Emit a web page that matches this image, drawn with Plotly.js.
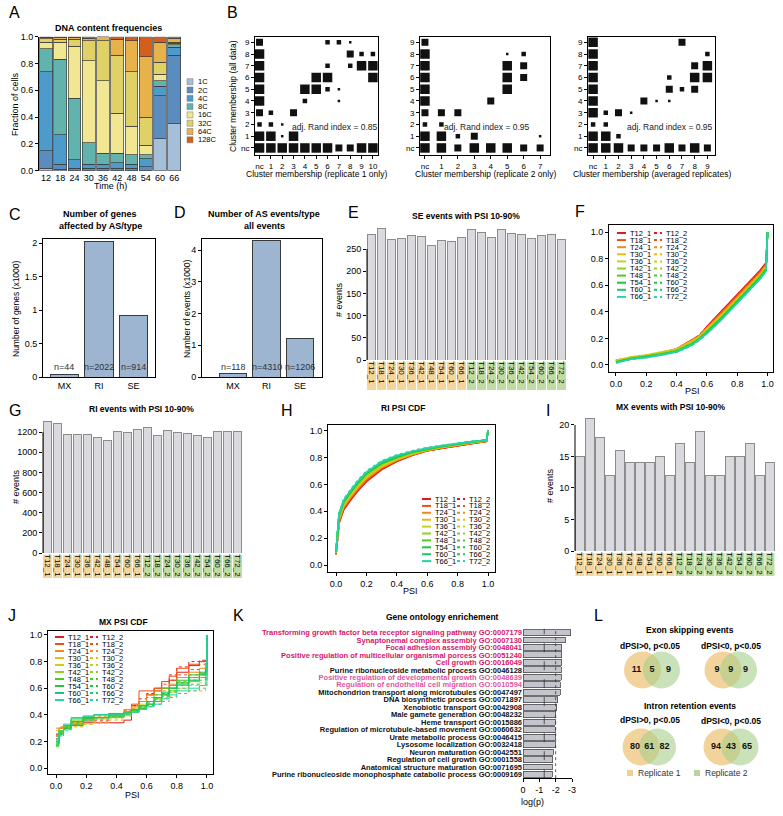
<!DOCTYPE html>
<html><head><meta charset="utf-8">
<script src="https://cdn.plot.ly/plotly-3.0.1.min.js"></script>
<style>html,body{margin:0;padding:0;background:#fff}</style>
</head><body><div id="chart" style="width:783px;height:816px"></div>
<script>
const W = 783, H = 816;
// ================= DATA =================
// A: DNA content frequencies
const timeA = ['12','18','24','30','36','42','48','54','60','66'];
const ploidy = ['1C','2C','4C','8C','16C','32C','64C','128C'];
const frac1C   = [0.02,0.01,0.00,0.00,0.00,0.00,0.00,0.00,0.24,0.35];
const frac2C   = [0.13,0.04,0.02,0.02,0.02,0.02,0.02,0.03,0.32,0.51];
const frac4C   = [0.59,0.22,0.06,0.03,0.03,0.04,0.03,0.06,0.07,0.06];
const frac8C   = [0.17,0.56,0.46,0.16,0.08,0.07,0.07,0.03,0.04,0.02];
const frac16C  = [0.05,0.13,0.39,0.61,0.54,0.30,0.21,0.07,0.05,0.01];
const frac32C  = [0.025,0.02,0.05,0.15,0.30,0.43,0.41,0.21,0.09,0.01];
const frac64C  = [0.01,0.015,0.015,0.02,0.03,0.12,0.23,0.45,0.15,0.03];
const frac128C = [0.005,0.005,0.005,0.01,0.00,0.02,0.03,0.15,0.04,0.01];

// B: cluster membership (category index: 0 = nc), w = relative cluster weight
const clusterLabels = ['nc','1','2','3','4','5','6','7','8','9','10'];
const b1x = [0,0,0,0,0,0,0,0,0,0, 1,1,1,1, 2,2,2, 3,3,3, 4,4,4, 5,5,5, 6,6,6,6,6, 7,7,7,7, 8,8,8,8, 9,9,9, 10,10,10,10];
const b1y = [9,8,7,6,5,4,3,2,1,0, 3,2,1,0, 2,1,0, 3,1,0, 5,4,0, 6,5,0, 9,7,6,5,0, 9,5,4,0, 9,8,7,0, 8,7,0, 8,7,6,0];
const b1w = [2,3,3,3,3,3,2,1,3,3, 1,1,3,3, 0,0,3, 2,3,3, 3,1,3, 3,3,3, 1,1,3,1,3, 1,0,0,2, 0,2,1,2, 1,3,3, 1,3,3,3];
const b2x = [0,0,0,0,0,0,0,0,0,0, 1,1,1,1, 2,2,2, 3,3, 4,4, 5,5,5,5,5, 6,6,6,6, 7,7];
const b2y = [9,8,7,6,5,4,3,2,1,0, 3,2,1,0, 3,1,0, 1,0, 4,0, 8,7,6,5,0, 8,7,6,0, 1,0];
const b2w = [2,3,3,3,3,3,2,1,3,3, 2,1,3,3, 2,1,2, 2,3, 2,3, 0,3,3,3,3, 1,2,2,2, 0,2];
const b3x = [0,0,0,0,0,0,0,0,0,0, 1,1,1,1, 2,2,2, 3,3, 4,4, 5,5, 6,6,6,6, 7,7,7, 8,8,8,8, 9,9,9,9];
const b3y = [9,8,7,6,5,4,3,2,1,0, 3,2,1,0, 3,1,0, 3,0, 4,0, 4,0, 6,5,4,0, 9,5,0, 7,6,5,0, 8,7,6,0];
const b3w = [3,3,3,3,3,3,3,1,3,3, 1,1,3,3, 2,1,3, 0,2, 2,2, 0,2, 1,2,0,3, 2,1,2, 2,3,2,3, 1,3,3,2];
const randIndex = [0.85, 0.95, 0.95];
const bXTitles = ['Cluster membership (replicate 1 only)','Cluster membership (replicate 2 only)','Cluster membership (averaged replicates)'];

// C, D
const asTypes = ['MX','RI','SE'];
const genesAffected = [44, 2022, 914];
const eventsAll = [118, 4310, 1206];

// E, G, I
const samples = ['T12_1','T18_1','T24_1','T30_1','T36_1','T42_1','T48_1','T54_1','T60_1','T66_1',
                 'T12_2','T18_2','T24_2','T30_2','T36_2','T42_2','T54_2','T60_2','T66_2','T72_2'];
const seEvents = [283,296,272,274,281,279,259,270,267,277,293,288,275,293,285,283,274,280,283,272];
const riEvents = [1309,1287,1177,1180,1180,1147,1114,1203,1193,1227,1243,1170,1213,1197,1183,1167,1150,1203,1203,1207];
const mxEvents = [15,21,18,12,16,14,14,14,15,12,17,14,19,12,12,15,15,17,12,14];

// F, H, J : CDF curves
const cdfNames1 = ['T12_1','T18_1','T24_1','T30_1','T36_1','T42_1','T48_1','T54_1','T60_1','T66_1'];
const cdfNames2 = ['T12_2','T18_2','T24_2','T30_2','T36_2','T42_2','T48_2','T60_2','T66_2','T72_2'];
const psiF = [0,0.05,0.1,0.2,0.3,0.4,0.5,0.55,0.6,0.7,0.8,0.9,0.95,0.99,1];
const seCdf1 = [
 [0.035,0.045,0.055,0.07,0.09,0.12,0.19,0.22,0.29,0.41,0.53,0.65,0.71,0.77,1],
 [0.03,0.045,0.055,0.07,0.09,0.12,0.19,0.22,0.28,0.40,0.52,0.64,0.70,0.76,1],
 [0.035,0.045,0.055,0.07,0.09,0.12,0.18,0.22,0.28,0.39,0.51,0.63,0.69,0.75,1],
 [0.035,0.05,0.06,0.075,0.095,0.12,0.18,0.21,0.27,0.38,0.50,0.62,0.68,0.74,1],
 [0.03,0.045,0.055,0.07,0.09,0.115,0.17,0.21,0.26,0.37,0.49,0.61,0.67,0.73,1],
 [0.025,0.04,0.05,0.065,0.085,0.11,0.165,0.20,0.255,0.365,0.485,0.605,0.665,0.725,1],
 [0.02,0.035,0.05,0.065,0.08,0.105,0.16,0.20,0.25,0.36,0.48,0.60,0.66,0.72,1],
 [0.02,0.035,0.045,0.06,0.08,0.10,0.155,0.195,0.245,0.355,0.475,0.595,0.655,0.715,1],
 [0.02,0.035,0.045,0.06,0.075,0.10,0.15,0.19,0.24,0.35,0.47,0.59,0.65,0.71,1],
 [0.015,0.03,0.045,0.055,0.075,0.10,0.15,0.19,0.235,0.345,0.465,0.585,0.645,0.705,1]];
const seCdf2 = [
 [0.035,0.045,0.055,0.07,0.09,0.12,0.185,0.225,0.285,0.40,0.52,0.645,0.705,0.765,1],
 [0.03,0.045,0.055,0.07,0.09,0.115,0.18,0.22,0.28,0.395,0.515,0.635,0.695,0.755,1],
 [0.03,0.045,0.055,0.07,0.09,0.115,0.175,0.215,0.275,0.385,0.505,0.625,0.685,0.745,1],
 [0.035,0.05,0.06,0.075,0.095,0.12,0.175,0.21,0.265,0.375,0.495,0.615,0.675,0.735,1],
 [0.03,0.045,0.055,0.07,0.09,0.115,0.17,0.205,0.26,0.37,0.49,0.61,0.67,0.73,1],
 [0.025,0.04,0.05,0.065,0.085,0.11,0.165,0.20,0.255,0.365,0.485,0.605,0.665,0.725,1],
 [0.02,0.035,0.05,0.065,0.08,0.105,0.16,0.195,0.25,0.36,0.48,0.60,0.66,0.72,1],
 [0.02,0.035,0.045,0.06,0.08,0.10,0.155,0.19,0.245,0.355,0.475,0.595,0.655,0.715,1],
 [0.02,0.035,0.045,0.06,0.075,0.10,0.15,0.19,0.24,0.35,0.47,0.59,0.65,0.71,1],
 [0.015,0.03,0.045,0.055,0.075,0.095,0.145,0.185,0.235,0.345,0.465,0.585,0.645,0.705,1]];
const psiH = [0,0.01,0.02,0.05,0.1,0.15,0.2,0.3,0.4,0.5,0.6,0.7,0.8,0.9,0.99,1];
const riCdf1 = [
 [0.08,0.22,0.31,0.41,0.49,0.56,0.62,0.71,0.77,0.815,0.85,0.87,0.89,0.905,0.92,1],
 [0.08,0.23,0.32,0.42,0.50,0.57,0.63,0.72,0.775,0.82,0.85,0.87,0.89,0.905,0.92,1],
 [0.09,0.24,0.33,0.43,0.51,0.58,0.64,0.725,0.78,0.82,0.855,0.875,0.895,0.91,0.92,1],
 [0.09,0.25,0.34,0.44,0.52,0.59,0.65,0.73,0.785,0.825,0.855,0.875,0.895,0.91,0.925,1],
 [0.09,0.25,0.35,0.45,0.53,0.60,0.66,0.74,0.79,0.83,0.86,0.88,0.90,0.915,0.925,1],
 [0.09,0.26,0.36,0.46,0.54,0.61,0.67,0.75,0.80,0.835,0.86,0.88,0.90,0.915,0.925,1],
 [0.10,0.27,0.37,0.47,0.55,0.62,0.68,0.755,0.80,0.84,0.865,0.885,0.90,0.915,0.925,1],
 [0.10,0.27,0.37,0.47,0.55,0.62,0.68,0.76,0.805,0.84,0.865,0.885,0.90,0.915,0.93,1],
 [0.10,0.28,0.38,0.48,0.56,0.63,0.69,0.765,0.81,0.845,0.87,0.885,0.905,0.92,0.93,1],
 [0.10,0.28,0.38,0.48,0.56,0.63,0.69,0.77,0.815,0.845,0.87,0.89,0.905,0.92,0.93,1]];
const riCdf2 = [
 [0.08,0.22,0.32,0.42,0.50,0.57,0.63,0.715,0.775,0.82,0.85,0.87,0.89,0.905,0.92,1],
 [0.08,0.23,0.33,0.43,0.51,0.58,0.64,0.72,0.78,0.82,0.85,0.875,0.89,0.905,0.92,1],
 [0.09,0.24,0.34,0.44,0.52,0.59,0.645,0.73,0.785,0.825,0.855,0.875,0.895,0.91,0.92,1],
 [0.09,0.25,0.35,0.45,0.53,0.60,0.655,0.735,0.79,0.83,0.86,0.88,0.895,0.91,0.925,1],
 [0.09,0.26,0.36,0.46,0.54,0.61,0.665,0.745,0.795,0.83,0.86,0.88,0.90,0.915,0.925,1],
 [0.10,0.26,0.36,0.46,0.545,0.615,0.675,0.75,0.80,0.835,0.865,0.88,0.90,0.915,0.925,1],
 [0.10,0.27,0.37,0.47,0.55,0.62,0.68,0.76,0.805,0.84,0.865,0.885,0.90,0.915,0.93,1],
 [0.10,0.27,0.38,0.48,0.56,0.63,0.685,0.765,0.81,0.845,0.87,0.885,0.905,0.92,0.93,1],
 [0.10,0.28,0.38,0.48,0.56,0.63,0.69,0.77,0.815,0.845,0.87,0.89,0.905,0.92,0.93,1],
 [0.11,0.29,0.39,0.49,0.57,0.64,0.70,0.775,0.82,0.85,0.875,0.89,0.905,0.92,0.93,1]];
const psiJ = [0,0.02,0.05,0.1,0.18,0.25,0.35,0.45,0.5,0.55,0.6,0.65,0.7,0.75,0.8,0.88,0.95,0.99,1];
const mxCdf1 = [
 [0.25,0.30,0.32,0.33,0.34,0.34,0.34,0.36,0.44,0.50,0.55,0.58,0.60,0.66,0.72,0.77,0.80,0.81,1],
 [0.22,0.28,0.30,0.32,0.36,0.38,0.40,0.42,0.48,0.58,0.58,0.60,0.65,0.69,0.75,0.78,0.80,0.80,1],
 [0.20,0.27,0.31,0.34,0.37,0.38,0.41,0.44,0.46,0.50,0.55,0.58,0.60,0.63,0.68,0.72,0.75,0.78,1],
 [0.28,0.30,0.32,0.34,0.35,0.37,0.40,0.42,0.45,0.47,0.50,0.53,0.56,0.60,0.64,0.66,0.70,0.72,1],
 [0.18,0.26,0.30,0.33,0.36,0.38,0.39,0.41,0.44,0.48,0.50,0.52,0.55,0.60,0.62,0.65,0.68,0.72,1],
 [0.20,0.28,0.31,0.36,0.38,0.38,0.39,0.40,0.42,0.45,0.48,0.52,0.55,0.58,0.62,0.65,0.68,0.73,1],
 [0.22,0.27,0.30,0.35,0.37,0.38,0.40,0.42,0.44,0.46,0.50,0.55,0.60,0.62,0.64,0.68,0.71,0.74,1],
 [0.17,0.25,0.30,0.35,0.38,0.40,0.40,0.41,0.43,0.45,0.48,0.50,0.55,0.60,0.66,0.70,0.72,0.75,1],
 [0.19,0.26,0.32,0.37,0.39,0.40,0.41,0.42,0.44,0.47,0.50,0.53,0.57,0.60,0.63,0.66,0.70,0.72,1],
 [0.21,0.28,0.33,0.38,0.39,0.40,0.40,0.41,0.42,0.44,0.46,0.48,0.52,0.55,0.58,0.60,0.62,0.64,1]];
const mxCdf2 = [
 [0.24,0.30,0.32,0.33,0.35,0.36,0.38,0.42,0.47,0.52,0.56,0.60,0.65,0.70,0.76,0.80,0.81,0.82,1],
 [0.22,0.28,0.31,0.33,0.35,0.38,0.40,0.43,0.47,0.50,0.55,0.60,0.63,0.66,0.70,0.74,0.78,0.80,1],
 [0.30,0.31,0.32,0.34,0.37,0.39,0.41,0.43,0.45,0.50,0.53,0.55,0.58,0.62,0.65,0.70,0.72,0.75,1],
 [0.26,0.28,0.30,0.31,0.33,0.34,0.36,0.39,0.42,0.45,0.48,0.50,0.52,0.54,0.56,0.58,0.58,0.60,1],
 [0.18,0.25,0.29,0.31,0.33,0.35,0.37,0.40,0.42,0.45,0.48,0.50,0.53,0.57,0.60,0.62,0.64,0.66,1],
 [0.20,0.26,0.30,0.33,0.36,0.37,0.38,0.40,0.42,0.44,0.47,0.50,0.54,0.58,0.62,0.66,0.70,0.72,1],
 [0.16,0.24,0.29,0.33,0.36,0.38,0.40,0.41,0.43,0.45,0.48,0.51,0.55,0.58,0.62,0.66,0.68,0.70,1],
 [0.18,0.25,0.30,0.34,0.37,0.38,0.39,0.41,0.43,0.46,0.49,0.52,0.56,0.60,0.64,0.68,0.70,0.72,1],
 [0.20,0.27,0.31,0.35,0.37,0.38,0.39,0.40,0.42,0.44,0.47,0.50,0.54,0.57,0.60,0.63,0.66,0.68,1],
 [0.17,0.24,0.28,0.33,0.36,0.37,0.38,0.40,0.42,0.44,0.46,0.48,0.50,0.53,0.56,0.58,0.60,0.62,1]];

// K: GO enrichment
const goTerms = [
 'Transforming growth factor beta receptor signaling pathway GO:0007179',
 'Synaptonemal complex assembly GO:0007130',
 'Focal adhesion assembly GO:0048041',
 'Positive regulation of multicellular organismal porcess GO:0051240',
 'Cell growth GO:0016049',
 'Purine ribonucleoside metabolic process GO:0046128',
 'Positive regulation of developmental growth GO:0048639',
 'Regulation of endothelial cell migration GO:0010594',
 'Mitochondrion transport along microtubules GO:0047497',
 'DNA biosynthetic process GO:0071897',
 'Xenobiotic transport GO:0042908',
 'Male gamete generation GO:0048232',
 'Heme transport GO:0015886',
 'Regulation of microtubule-based movement GO:0060632',
 'Urate metabolic process GO:0046415',
 'Lysosome localization GO:0032418',
 'Neuron maturation GO:0042551',
 'Regulation of cell growth GO:0001558',
 'Anatomical structure maturation GO:0071695',
 'Purine ribonucleoside monophosphate catabolic process GO:0009169'];
const goLogP = [-2.92,-2.59,-2.37,-2.37,-2.37,-2.33,-2.33,-2.27,-2.27,-2.13,-2.06,-2.02,-1.98,-1.96,-1.96,-1.96,-1.86,-1.82,-1.80,-1.78];
const goGroup = [1,1,1,1,1,0,2,2,0,0,0,0,0,0,0,0,0,0,0,0];

// L: Venn counts [rep1 only, shared, rep2 only]
const vennTitles = ['Exon skipping events','Intron retention events'];
const vennConds = ['dPSI&gt;0, p&lt;0.05','dPSI&lt;0, p&lt;0.05'];
const esUp = [11,5,9], esDown = [9,9,9], irUp = [80,61,82], irDown = [94,43,65];
const repNames = ['Replicate 1','Replicate 2'];

// ================= STYLE / HELPERS =================
const FONT = 'Liberation Sans, Arial, sans-serif';
const ploidyColors = ['#a6bfd9','#5a8cbe','#4c9bcb','#62b2ad','#f1e792','#dfd166','#e8b24a','#d2601c'];
const tpColors = ['#e3191c','#ee4d16','#f08a1a','#e6bd0c','#c2d418','#8ed21c','#50c82a','#1ec63c','#18c870','#26d4a8'];
const data = [], shapes = [], annotations = [];
const xd = (l,r) => [l/W, r/W];
const yd = (t,b) => [1-b/H, 1-t/H];
const px = x => x/W, py = y => 1 - y/H;
function ann(text, x, y, size, o) {
  const a = {text, x:px(x), y:py(y), xref:'paper', yref:'paper', showarrow:false,
    xanchor:'center', yanchor:'middle', font:{size:size||9, color:'#000', family:FONT}};
  annotations.push(Object.assign(a, o||{}));
}
const baseAx = {showgrid:false, zeroline:false, showline:true, linecolor:'#000', linewidth:1,
  ticks:'outside', ticklen:3, tickwidth:1, tickcolor:'#000', tickfont:{size:9, color:'#000', family:FONT}, fixedrange:true};
const ax = o => Object.assign({}, baseAx, o);
const layout = {width:W, height:H, margin:{l:0,r:0,t:0,b:0}, paper_bgcolor:'#fff', plot_bgcolor:'rgba(0,0,0,0)',
  showlegend:false, barmode:'stack', font:{family:FONT, size:9, color:'#000'}, hovermode:false};

// ---------- Panel A ----------
const fracs = [frac1C,frac2C,frac4C,frac8C,frac16C,frac32C,frac64C,frac128C];
ploidy.forEach((p,i) => data.push({type:'bar', x:timeA, y:fracs[i], name:p, width:0.9,
  marker:{color:ploidyColors[i], line:{color:'#3c3c3c', width:0.7}}, xaxis:'x', yaxis:'y'}));
layout.xaxis = ax({domain:xd(39,182), anchor:'y', type:'category', range:[-0.5,9.55], ticks:'', showline:false});
layout.yaxis = ax({domain:yd(36.7,170.7), anchor:'x', range:[0,1], tickvals:[0,0.2,0.4,0.6,0.8,1], tickformat:'.1f'});
ann('<b>DNA content frequencies</b>', 108, 28, 9);
ann('Time (h)', 110, 186, 9);
ann('Fraction of cells', 15, 104, 9, {textangle:-90});
ploidy.forEach((p,i) => {
  const yc = 81.7 + i*8.3;
  shapes.push({type:'rect', xref:'paper', yref:'paper', x0:px(187), x1:px(193), y0:py(yc+3), y1:py(yc-3),
    fillcolor:ploidyColors[i], line:{color:'#777', width:0.5}});
  ann(p, 196, yc, 7.5, {xanchor:'left'});
});

// ---------- Panel B ----------
const wSize = [2.5, 4.5, 7, 9.5];
const bSets = [[b1x,b1y,b1w],[b2x,b2y,b2w],[b3x,b3y,b3w]];
const bDom = [[255,378,[-0.4,10.45]],[420,550,[-0.3,7.6]],[588,715,[-0.4,9.6]]];
const bMax = [10,7,9];
bSets.forEach((s,k) => {
  const n = k+2;
  data.push({type:'scatter', mode:'markers', x:s[0], y:s[1], xaxis:'x'+n, yaxis:'y'+n,
    marker:{symbol:'square', color:'#111', opacity:1, size:s[2].map(w => wSize[w]), line:{width:0}}});
  const tv = Array.from({length:bMax[k]+1}, (_,i)=>i);
  layout['xaxis'+n] = ax({domain:xd(bDom[k][0],bDom[k][1]), anchor:'y'+n, range:bDom[k][2], tickvals:tv,
    ticktext:clusterLabels.slice(0,bMax[k]+1), mirror:true, tickfont:{size:8, color:'#000', family:FONT}});
  layout['yaxis'+n] = ax({domain:yd(37,155), anchor:'x'+n, range:[-0.6,9.45], tickvals:[0,1,2,3,4,5,6,7,8,9],
    ticktext:clusterLabels.slice(0,10), mirror:true, tickfont:{size:8, color:'#000', family:FONT}});
  const cx = (bDom[k][0]+bDom[k][1])/2;
  ann(bXTitles[k], cx, 174, 8.5);
  ann('adj. Rand index = ' + randIndex[k].toFixed(2), [335,487,670][k], 127, 8.5, {font:{size:8.5,color:'#222',family:FONT}});
});
ann('Cluster membership (all data)', 233, 96, 8.5, {textangle:-90});

// ---------- Panel C & D ----------
function asPanel(vals, n, xl, title1, title2, ytitle, ytx, yr, tv, tt, nLabelY, titleX) {
  data.push({type:'bar', x:asTypes, y:vals.map(v => v/1000), width:0.82, xaxis:'x'+n, yaxis:'y'+n,
    marker:{color:'#9eb5d1', line:{color:'#3a3a3a', width:1}}});
  layout['xaxis'+n] = ax({domain:xd(xl[0],xl[1]), anchor:'y'+n, type:'category', range:xl[2], ticks:'', mirror:true});
  layout['yaxis'+n] = ax({domain:yd(239,377), anchor:'x'+n, range:yr, tickvals:tv, ticktext:tt, mirror:true});
  ann('<b>'+title1+'</b>', titleX, 214, 9);
  ann('<b>'+title2+'</b>', titleX, 225.5, 9);
  ann(ytitle, ytx, 309, 8.5, {textangle:-90});
  vals.forEach((v,i) => annotations.push({text:'n='+v, x:asTypes[i], y:py(nLabelY), xref:'x'+n, yref:'paper',
    showarrow:false, xanchor:'center', yanchor:'middle', font:{size:9, color:'#333', family:FONT}}));
}
asPanel(genesAffected, 5, [43,155,[-0.62,2.62]], 'Number of genes', 'affected by AS/type', 'Number of genes (x1000)', 16,
  [0,2.06], [0,0.5,1,1.5,2], ['0','0.5','1','1.5','2'], 367, 100);
asPanel(eventsAll, 6, [202,322,[-0.93,2.66]], 'Number of AS events/type', 'all events', 'Number of events (x1000)', 187,
  [0,4.35], [0,1,2,3,4], ['0','1','2','3','4'], 366.5, 264);

// ---------- Panels E, G, I ----------
const sIdx = samples.map((_,i)=>i);
function sampleBars(vals, n, xl, xr, xrange, yt, yb, yrange, tv, axTop, boxT, boxB, title, titleX, titleY, ytx, yty) {
  data.push({type:'bar', x:sIdx, y:vals, width:0.83, xaxis:'x'+n, yaxis:'y'+n,
    marker:{color:'#d9d9de', line:{color:'#8c8c8c', width:1}}});
  layout['xaxis'+n] = ax({domain:xd(xl,xr), anchor:'y'+n, range:xrange, tickvals:sIdx, ticktext:samples,
    tickangle:90, ticks:'', showline:false, tickfont:{size:8, color:'#000', family:FONT}});
  layout['yaxis'+n] = ax({domain:yd(yt,yb), anchor:'x'+n, range:yrange, tickvals:tv, showline:false});
  shapes.push({type:'line', xref:'x'+n+' domain', yref:'y'+n, x0:0, x1:0, y0:0, y1:axTop, line:{color:'#000', width:1}});
  sIdx.forEach(i => shapes.push({type:'rect', xref:'x'+n, yref:'paper', x0:i-0.45, x1:i+0.45, y0:py(boxB), y1:py(boxT),
    fillcolor: samples[i].endsWith('_1') ? '#f5d59b' : '#bfdca2', line:{width:0}, layer:'below'}));
  ann('<b>'+title+'</b>', titleX, titleY, 8.5);
  ann('# events', ytx, yty, 9, {textangle:-90});
}
sampleBars(seEvents, 7, 367, 567, [-0.45,19.55], 226.8, 360, [0,300], [0,50,100,150,200,250], 250, 362, 390,
  'SE events with PSI 10-90%', 466, 216, 339, 300);
sampleBars(riEvents, 9, 43, 243, [-0.45,19.55], 417, 553, [0,1350], [0,200,400,600,800,1000,1200], 1200, 555, 578,
  'RI events with PSI 10-90%', 141, 409, 16, 487);
sampleBars(mxEvents, 11, 575, 775, [-0.5,19.5], 415.5, 551, [0,21.5], [0,5,10,15,20], 20, 553, 576,
  'MX events with PSI 10-90%', 671, 407, 550, 486);

// ---------- Panels F, H, J ----------
function cdfPanel(xs, ys1, ys2, n, xl, xr, xrange, yt, yb, yrange, lw, lshape, leg) {
  for (let i=0;i<10;i++) {
    data.push({type:'scatter', mode:'lines', x:xs, y:ys1[i], name:cdfNames1[i], xaxis:'x'+n, yaxis:'y'+n,
      line:{color:tpColors[i], width:lw, shape:lshape}});
    data.push({type:'scatter', mode:'lines', x:xs, y:ys2[i], name:cdfNames2[i], xaxis:'x'+n, yaxis:'y'+n,
      line:{color:tpColors[i], width:lw, shape:lshape, dash:'dot'}});
  }
  const tv = [0,0.2,0.4,0.6,0.8,1];
  layout['xaxis'+n] = ax({domain:xd(xl,xr), anchor:'y'+n, range:xrange, tickvals:tv, tickformat:'.1f', mirror:true});
  layout['yaxis'+n] = ax({domain:yd(yt,yb), anchor:'x'+n, range:yrange, tickvals:tv, tickformat:'.1f', mirror:true});
  // legend (two columns)
  for (let i=0;i<10;i++) {
    const y = leg.y0 + i*leg.dy;
    shapes.push({type:'line', xref:'paper', yref:'paper', x0:px(leg.x1), x1:px(leg.x1+9), y0:py(y), y1:py(y),
      line:{color:tpColors[i], width:2}});
    ann(cdfNames1[i], leg.x1+11, y, 7.5, {xanchor:'left'});
    shapes.push({type:'line', xref:'paper', yref:'paper', x0:px(leg.x2), x1:px(leg.x2+8), y0:py(y), y1:py(y),
      line:{color:tpColors[i], width:2, dash:'dot'}});
    ann(cdfNames2[i], leg.x2+10, y, 7.5, {xanchor:'left'});
  }
}
cdfPanel(psiF, seCdf1, seCdf2, 8, 609, 773, [-0.046,1.036], 225, 372, [-0.053,1.053], 1.6, 'linear',
  {x1:617, x2:654, y0:233, dy:7.1});
ann('PSI', 692, 391, 9);
cdfPanel(psiH, riCdf1, riCdf2, 10, 328, 495, [-0.053,1.046], 425, 572, [-0.052,1.042], 1.6, 'linear',
  {x1:422, x2:457, y0:499, dy:6.9});
ann('<b>RI PSI CDF</b>', 403, 408, 8.5);
ann('PSI', 410, 591, 9);
cdfPanel(psiJ, mxCdf1, mxCdf2, 12, 48, 213, [-0.053,1.04], 631, 774, [-0.045,1.03], 1, 'hv',
  {x1:55, x2:90, y0:637, dy:7});
ann('<b>MX PSI CDF</b>', 123, 622, 8.5);
ann('PSI', 132, 795, 9);

// ---------- Panel K ----------
const goIdx = goTerms.map((_,i)=>i);
const goColors = ['#111111','#d4176b','#e0569d'];
data.push({type:'bar', orientation:'h', y:goIdx, x:goLogP, width:0.8, xaxis:'x13', yaxis:'y13',
  marker:{color:'#c4c4cc', line:{color:'#4a4a4a', width:0.8}}});
layout.xaxis13 = ax({domain:xd(523,572), anchor:'y13', range:[0,-3], tickvals:[0,-1,-2,-3], ticktext:['0','-1','-2','-3']});
layout.yaxis13 = ax({domain:yd(628.8,778.2), anchor:'x13', range:[19.5,-0.5], tickvals:goIdx,
  ticktext:goTerms.map((t,i) => '<span style="color:'+goColors[goGroup[i]]+'"><b>'+t+'</b></span>'),
  ticks:'', showline:false, tickfont:{size:7.5, color:'#000', family:FONT}});
shapes.push({type:'line', xref:'x13', yref:'y13 domain', x0:-1.3, x1:-1.3, y0:0, y1:1, line:{color:'#333', width:0.8, dash:'dash'}});
shapes.push({type:'line', xref:'x13', yref:'y13 domain', x0:-2, x1:-2, y0:0, y1:1, line:{color:'#333', width:0.8, dash:'dot'}});
ann('<b>Gene ontology enrichement</b>', 442, 617, 8.5);
ann('log(p)', 532, 802, 9);

// ---------- Panel L ----------
layout.xaxis14 = {domain:[0,1], range:[0,W], visible:false, fixedrange:true, anchor:'y14'};
layout.yaxis14 = {domain:[0,1], range:[H,0], visible:false, fixedrange:true, anchor:'x14'};
const vennSets = [esUp, esDown, irUp, irDown];
const vennPos = [{o:642.5,g:661.5,y:670},{o:723,g:738.5,y:670},{o:641,g:657.5,y:747},{o:722,g:740,y:747}];
const repColors = ['rgba(238,194,118,0.72)','rgba(166,206,138,0.6)'];
vennSets.forEach((v,k) => {
  const p = vennPos[k];
  data.push({type:'scatter', mode:'markers', x:[p.o], y:[p.y], xaxis:'x14', yaxis:'y14',
    marker:{size:37, color:repColors[0], line:{width:0}}});
  data.push({type:'scatter', mode:'markers', x:[p.g], y:[p.y], xaxis:'x14', yaxis:'y14',
    marker:{size:37, color:repColors[1], line:{width:0}}});
  data.push({type:'scatter', mode:'text', x:[p.o-6, (p.o+p.g)/2, p.g+7], y:[p.y,p.y,p.y], xaxis:'x14', yaxis:'y14',
    text:v.map(n => '<b>'+n+'</b>'), textfont:{size:9, color:'#111', family:FONT}, textposition:'middle center'});
});
ann('<b>'+vennTitles[0]+'</b>', 690, 630, 8.5);
ann('<b>'+vennTitles[1]+'</b>', 690, 706, 8.5);
ann('<b>'+vennConds[0]+'</b>', 650, 646, 8.5);
ann('<b>'+vennConds[1]+'</b>', 731, 645.5, 8.5);
ann('<b>'+vennConds[0]+'</b>', 650, 720, 8.5);
ann('<b>'+vennConds[1]+'</b>', 731, 720.5, 8.5);
[[630,636],[697,703]].forEach((q,i) => {
  shapes.push({type:'rect', xref:'paper', yref:'paper', x0:px(q[0]-3), x1:px(q[0]+3), y0:py(776), y1:py(770),
    fillcolor:['#f1cf92','#b5d69c'][i], line:{width:0}});
  ann(repNames[i], q[1], 773, 8.5, {xanchor:'left', font:{size:8.5, color:'#333', family:FONT}});
});

// ---------- Panel letters ----------
[['A',15,13],['B',233,13],['C',15,215],['D',180,213],['E',353,213],['F',580,212],
 ['G',15,410],['H',287,410],['I',548,410],['J',12,615],['K',238,615],['L',598,615]]
 .forEach(l => ann(l[0], l[1], l[2], 16));

layout.shapes = shapes;
layout.annotations = annotations;
Plotly.newPlot('chart', data, layout, {staticPlot:true, displayModeBar:false});
</script></body></html>
